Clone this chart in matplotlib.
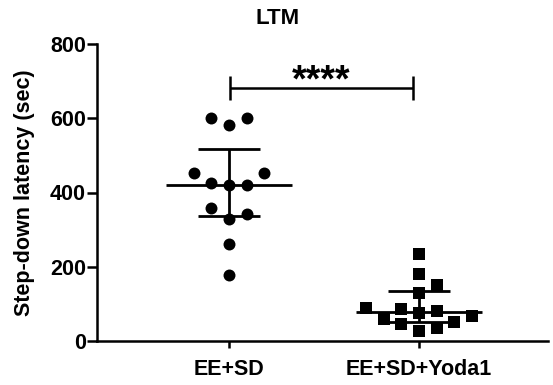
import numpy as np
import matplotlib
matplotlib.use('Agg')
import matplotlib.pyplot as plt

plt.rcParams['font.family'] = ['Liberation Sans', 'DejaVu Sans']
plt.rcParams['font.weight'] = 'bold'

# values (sec)
groups = ['EE+SD', 'EE+SD+Yoda1']
ee_sd = [602, 602, 582, 453, 453, 425, 419, 419, 357, 342, 329, 260, 179]
ee_sd_yoda1 = [234, 180, 151, 128, 88, 86, 81, 75, 67, 58, 52, 46, 34, 28]
title = 'LTM'
ylabel = 'Step-down latency (sec)'
y_ticks = [0, 200, 400, 600, 800]
sig_label = '****'


def swarm_offsets(values, gap=40, step=0.093):
    # greedy scatter-dot layout: lowest values first, centre column preferred
    cols = [0]
    for n in range(1, 10):
        cols += [n, -n]
    placed = {}
    offsets = np.zeros(len(values))
    for i in np.argsort(values, kind='stable'):
        v = values[i]
        for c in cols:
            if all(abs(v - w) >= gap for w in placed.get(c, [])):
                placed.setdefault(c, []).append(v)
                offsets[i] = c * step
                break
    return offsets


fig = plt.figure(figsize=(5.53, 3.85), dpi=100)
ax = fig.add_axes([97/553, 44/385, 451/553, 297/385])

for i, (vals, marker, ms) in enumerate(zip([ee_sd, ee_sd_yoda1], ['o', 's'], [8.6, 8])):
    vals = np.array(vals, dtype=float)
    x = i + swarm_offsets(vals)
    ax.plot(x, vals, marker, color='black', ms=ms, mew=0, clip_on=False, zorder=3)
    # median with interquartile range
    q1, med, q3 = np.percentile(vals, [25, 50, 75], method='weibull')
    ax.hlines(med, i - 0.333, i + 0.333, color='black', lw=2, zorder=4)
    ax.vlines(i, q1, q3, color='black', lw=2, zorder=4)
    ax.hlines([q1, q3], i - 0.164, i + 0.164, color='black', lw=2, zorder=4)

# significance bracket
x0, x1, yb = 0.005, 0.968, 681
ax.hlines(yb, x0, x1, color='black', lw=1.8, clip_on=False)
ax.vlines([x0, x1], yb - 32, yb + 34, color='black', lw=1.8, clip_on=False)
ax.text((x0 + x1) / 2, yb + 17, sig_label, ha='center', va='center',
        fontsize=27, fontweight='bold')

ax.set_xlim(-0.695, 1.679)
ax.set_ylim(0, 800)
ax.set_xticks([0, 1])
ax.set_xticklabels(groups)
ax.set_yticks(y_ticks)
ax.set_ylabel(ylabel, fontsize=15.5, fontweight='bold')
ax.yaxis.set_label_coords(-0.138, 0.5)

for s in ['top', 'right']:
    ax.spines[s].set_visible(False)
for s in ['left', 'bottom']:
    ax.spines[s].set_linewidth(1.8)
ax.tick_params(axis='y', length=7, width=1.8, labelsize=15.5, pad=1)
ax.tick_params(axis='x', length=5, width=1.8, labelsize=15.5, pad=8)

fig.text(277.5/553, 1 - 19/385, title, ha='center', va='center',
         fontsize=16, fontweight='bold')

fig.savefig('out.png', dpi=100)
plt.close(fig)
